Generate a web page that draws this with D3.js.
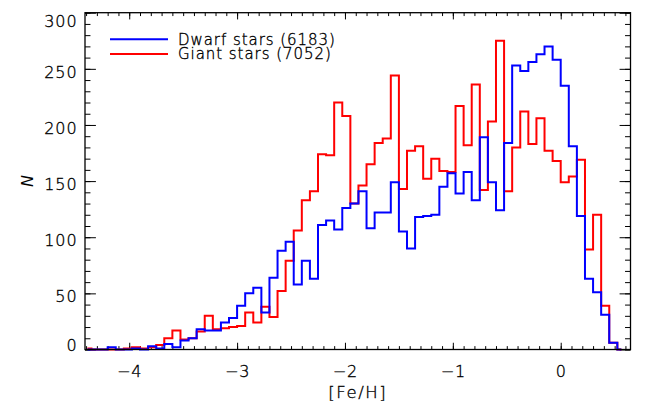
<!DOCTYPE html>
<html lang="en">
  <head>
    <meta charset="utf-8">
    <title>[Fe/H] histogram</title>
    <style>
      body { margin: 0; background: #fff; }
      svg text { font-family: "DejaVu Sans", sans-serif; font-weight: 200; fill: #000; stroke: #000; stroke-width: 0.35px; }
      .tick line { stroke: #000; stroke-width: 1px; }
      .domain { display: none; }
      .lbl text { font-size: 16px; letter-spacing: 0.9px; }
    </style>
  </head>
  <body>
    <svg width="649" height="405"></svg>
    <script src="https://d3js.org/d3.v7.min.js"></script>
    <script>
    // histogram bins: centre of the first bin and bin width
    var binStart = -4.3875;
    var binWidth = 0.075;

    var dwarfCounts = [0, 0, 0, 2, 0, 0, 1, 0, 3, 1,
                       5, 2, 8, 10, 18, 17, 17, 24, 28, 39,
                       50, 55, 33, 64, 88, 96, 58, 79, 63, 111,
                       115, 107, 126, 130, 141, 108, 122, 122, 149, 105,
                       90, 118, 119, 120, 145, 157, 139, 158, 133, 189,
                       149, 124, 184, 253, 248, 256, 263, 270, 258, 235,
                       181, 119, 63, 51, 31, 6, 0];
    var giantCounts = [1, 0, 0, 0, 0, 1, 2, 1, 2, 4,
                       10, 17, 9, 10, 16, 30, 18, 19, 20, 21,
                       33, 24, 38, 29, 52, 79, 106, 133, 141, 174,
                       173, 220, 208, 130, 146, 165, 184, 188, 244, 143,
                       177, 181, 152, 170, 159, 158, 217, 182, 236, 142,
                       203, 275, 141, 180, 212, 183, 206, 177, 168, 149,
                       154, 169, 89, 120, 39, 6, 0];

    var seriesNames = ["Dwarf stars (6183)", "Giant stars (7052)"];
    var xTicks = [-4, -3, -2, -1, 0];
    var yTicks = [0, 50, 100, 150, 200, 250, 300];
    var xLabel = "[Fe/H]";
    var yLabel = "N";

    var svg = d3.select("svg");
    // (window.top is read-only, hence the longer names)
    var pLeft = 85, pRight = 630.5, pTop = 12.7, pBottom = 349.5;

    var x = d3.scaleLinear().domain([-4.41, 0.647]).range([pLeft, pRight]);
    var y = d3.scaleLinear().domain([0, 300]).range([pBottom, pTop]);

    // IDL style: ticks inside, on all four sides; length is 2% of the plot size
    var xMajor = 0.02 * (pBottom - pTop), yMajor = 0.02 * (pRight - pLeft);
    var xMinor = d3.range(-44, 7).map(function(d) { return d / 10; });
    var yMinor = d3.range(0, 301, 10);

    svg.append("g").attr("transform", "translate(0," + pBottom + ")")
      .call(d3.axisBottom(x).tickValues(xMinor).tickSize(-xMajor / 2).tickFormat(""));
    var xAxis = svg.append("g").attr("class", "lbl").attr("transform", "translate(0," + pBottom + ")")
      .call(d3.axisBottom(x).tickValues(xTicks).tickSize(-xMajor).tickPadding(16)
        .tickFormat(function(d) { return d < 0 ? "\u2212" + Math.abs(d) : d; }));
    svg.append("g").attr("transform", "translate(0," + pTop + ")")
      .call(d3.axisTop(x).tickValues(xMinor).tickSize(-xMajor / 2).tickFormat(""));
    svg.append("g").attr("transform", "translate(0," + pTop + ")")
      .call(d3.axisTop(x).tickValues(xTicks).tickSize(-xMajor).tickFormat(""));

    svg.append("g").attr("transform", "translate(" + pLeft + ",0)")
      .call(d3.axisLeft(y).tickValues(yMinor).tickSize(-yMajor / 2).tickFormat(""));
    var yAxis = svg.append("g").attr("class", "lbl").attr("transform", "translate(" + pLeft + ",0)")
      .call(d3.axisLeft(y).tickValues(yTicks).tickSize(-yMajor).tickPadding(7.5));
    svg.append("g").attr("transform", "translate(" + pRight + ",0)")
      .call(d3.axisRight(y).tickValues(yMinor).tickSize(-yMajor / 2).tickFormat(""));
    svg.append("g").attr("transform", "translate(" + pRight + ",0)")
      .call(d3.axisRight(y).tickValues(yTicks).tickSize(-yMajor).tickFormat(""));

    // labels sit a bit under their tick, but the end ones are kept inside the frame
    yAxis.selectAll(".tick text").attr("dy", null)
      .attr("y", function(d) {
        var c = Math.min(Math.max(y(d) + 2.5, pTop + 8), pBottom - 4.5);
        return c - y(d) + 5.8;
      });

    function bins(counts) {
      return counts.map(function(n, i) { return { c: binStart + i * binWidth, n: n }; });
    }

    var line = d3.line()
      .x(function(d) { return x(d.c); })
      .y(function(d) { return y(d.n); })
      .curve(d3.curveStep);

    svg.append("path").datum(bins(giantCounts)).attr("d", line)
      .attr("fill", "none").attr("stroke", "#ff0000").attr("stroke-width", 2);
    svg.append("path").datum(bins(dwarfCounts)).attr("d", line)
      .attr("fill", "none").attr("stroke", "#0000ff").attr("stroke-width", 2);

    svg.append("rect").attr("x", pLeft).attr("y", pTop)
      .attr("width", pRight - pLeft).attr("height", pBottom - pTop)
      .attr("fill", "none").attr("stroke", "#000").attr("stroke-width", 1.3);

    // legend
    var colors = ["#0000ff", "#ff0000"];
    var legend = svg.append("g").selectAll("g").data(seriesNames).enter().append("g")
      .attr("transform", function(d, i) { return "translate(0," + (39.3 + i * 14.7) + ")"; });
    legend.append("line").attr("x1", 110).attr("x2", 168).attr("y1", 0).attr("y2", 0)
      .attr("stroke", function(d, i) { return colors[i]; }).attr("stroke-width", 2);
    legend.append("text").attr("x", 178).attr("y", 5.2)
      .style("font-size", "15px").style("letter-spacing", "0.95px")
      .text(function(d) { return d; });

    svg.append("text").attr("x", (pLeft + pRight) / 2).attr("y", 397.5)
      .attr("text-anchor", "middle").style("font-size", "16.5px").style("letter-spacing", "1.6px")
      .text(xLabel);
    svg.append("text").attr("transform", "translate(33," + ((pTop + pBottom) / 2) + ") rotate(-90)")
      .attr("text-anchor", "middle").style("font-size", "16px").style("font-style", "italic")
      .style("stroke-width", "0px")
      .text(yLabel);
    </script>
  </body>
</html>
